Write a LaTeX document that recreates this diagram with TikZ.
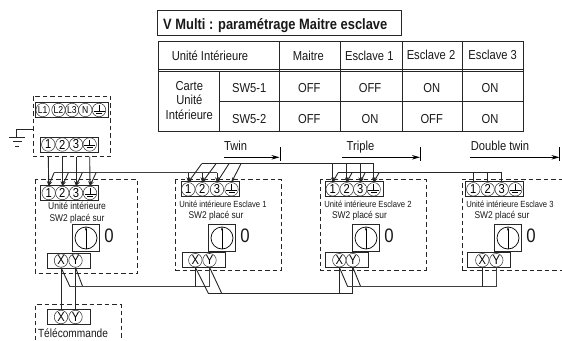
\documentclass[tikz,border=0pt]{standalone}
\usepackage{fontspec}
\setmainfont[FakeStretch=0.86]{Liberation Sans}
\usetikzlibrary{arrows.meta}
\newcommand{\fs}[1]{\fontsize{#1}{#1}\selectfont}
\tikzset{
  rule/.style={line width=0.9pt,black!85},
  wire/.style={line width=0.9pt,black!85},
  bus/.style={line width=1pt,black!75},
  feed/.style={wire,-{Stealth[length=5pt,width=3.5pt]}},
  span/.style={line width=0.9pt,-{Stealth[length=8pt,width=4.5pt]}},
  dash box/.style={line width=0.9pt,black!85,dash pattern=on 4.5pt off 3pt},
  stripbox/.style={draw,line width=1pt,black!85,minimum height=15pt,inner sep=0pt},
  term/.style={draw,circle,line width=0.5pt,black!80,minimum size=13.5pt,inner sep=0pt,text=black,font=\fs{13}},
  termsmall/.style={term,font=\fs{10}},
  earth/.style={term,path picture={
    \draw[line width=0.8pt,black] (path picture bounding box.center)++(0,5pt)--++(0,-6pt);
    \draw[line width=1pt,black] (path picture bounding box.center)++(-5.5pt,-1pt)--++(11pt,0);
    \draw[line width=1pt,black] (path picture bounding box.center)++(-3pt,-3pt)--++(6pt,0);}},
  switchbox/.style={draw,line width=1pt,black!85,minimum width=26.5pt,minimum height=26.5pt,inner sep=0pt},
  dial/.style={draw,circle,line width=0.7pt,minimum size=22pt,inner sep=0pt},
  lab/.style={anchor=base,inner sep=0pt,text=black!90},
  cell/.style={lab,font=\fs{13}},
  zero/.style={lab,font=\fs{19.5}},
}
% name, switch x, zero x, label x, sw2 x, label-y, sw2-y, label text, label size
\newcommand{\unitblock}[9]{%
  \node[switchbox] (#1sw) at (#2,238) {};
  \node[dial] (#1dial) at (#2,238) {};
  \draw[line width=0.4pt,-{Stealth[length=4pt,width=2pt]}] (#1dial.south) -- (#1dial.north);
  \node[zero] (#1zero) at (#3,242) {0};
  \node[lab,font=\fs{#9}] (#1lab) at (#4,#6) {#8};
  \node[lab,font=\fs{9.8}] (#1swlab) at (#5,#7) {SW2 placé sur};
}
% name, strip center x, y, c1,c2,c3,c4
\newcommand{\numstrip}[7]{%
  \node[stripbox,minimum width=58pt] (#1strip) at (#2,#3) {};
  \node[term] (#11) at (#4,#3) {1};
  \node[term] (#12) at (#5,#3) {2};
  \node[term] (#13) at (#6,#3) {3};
  \node[earth] (#14) at (#7,#3) {};
}
% name, center x, y, x1, x2
\newcommand{\xystrip}[5]{%
  \node[stripbox,minimum width=43.5pt] (#1xy) at (#2,#3) {};
  \node[term] (#1x) at (#4,#3) {X};
  \node[term] (#1y) at (#5,#3) {Y};
}
\begin{document}
\begin{tikzpicture}[x=1pt,y=-1pt]
\useasboundingbox (0,0) rectangle (562,340);
\fill[white] (0,0) rectangle (562,340);

% title
\node[draw,rule,minimum width=244pt,minimum height=25pt,inner sep=0pt] (titlebox) at (279.6,22.5) {};
\node[lab,anchor=base west,font=\fs{15}\bfseries] (title) at (163,29.3) {V Multi : paramétrage Maitre esclave};

% table
\draw[rule] (158,41) rectangle (523,131);
\draw[rule] (158,69.4) -- (523,69.4);
\draw[rule] (158,71.2) -- (523,71.2);
\draw[rule] (219,101.8) -- (523,101.8);
\draw[rule] (219,71) -- (219,131);
\foreach \cx in {279,340,402,462}{\draw[rule] (\cx,41) -- (\cx,131);}
\node[cell] (h0) at (210,60) {Unité Intérieure};
\node[cell] (h1) at (308.3,60) {Maitre};
\node[cell] (h2) at (369.3,60) {Esclave 1};
\node[cell] (h3) at (431,59) {Esclave 2};
\node[cell] (h4) at (492.7,59) {Esclave 3};
\node[cell] (cc1) at (189.3,90.7) {Carte};
\node[cell] (cc2) at (189.3,104) {Unité};
\node[cell] (cc3) at (189.3,119.3) {Intérieure};
\node[cell] (rr1) at (249.3,92.7) {SW5-1};
\node[cell] (rr2) at (249.3,123.3) {SW5-2};
\node[cell] (aa1) at (309.3,92.7) {OFF};
\node[cell] (aa2) at (370,92.7) {OFF};
\node[cell] (aa3) at (431.7,92.7) {ON};
\node[cell] (aa4) at (490,92.7) {ON};
\node[cell] (bb1) at (309.3,123.3) {OFF};
\node[cell] (bb2) at (370,123.3) {ON};
\node[cell] (bb3) at (431.7,123.3) {OFF};
\node[cell] (bb4) at (490,123.3) {ON};

% span arrows
\node[cell] (twin) at (235.7,150.5) {Twin};
\node[cell] (triple) at (360.5,150.5) {Triple};
\node[cell] (dtwin) at (500,150) {Double twin};
\coordinate (t1) at (224,157.3); \coordinate (t2) at (279.5,157.3);
\coordinate (u1) at (342,157.3); \coordinate (u2) at (420,157.3);
\coordinate (v1) at (469.7,157.3); \coordinate (v2) at (559.5,157.3);
\draw[span] (t1) -- (t2); \draw[line width=0.9pt] (280,147) -- (280,161);
\draw[span] (u1) -- (u2); \draw[line width=0.9pt] (420.7,147) -- (420.7,161);
\draw[span] (v1) -- (v2); \draw[line width=0.9pt] (559.7,147) -- (559.7,161);

% outlet box
\draw[dash box] (33,96) rectangle (110.7,156.7);
\node[stripbox,minimum width=73.5pt,minimum height=14.5pt] (linestrip) at (72,110) {};
\node[termsmall] (L1) at (42.7,110) {L1};
\node[termsmall] (L2) at (58.5,110) {L2};
\node[termsmall] (L3) at (72,110) {L3};
\node[termsmall] (LN) at (85.3,110) {N};
\node[earth] (LE) at (99,110) {};
\numstrip{o}{69.7}{144.5}{48.3}{62.3}{76}{89.7}

% ground
\coordinate (gtop) at (33,129);
\coordinate (gbend) at (16.7,129);
\coordinate (gbase) at (16.7,137);
\draw[wire] (gtop) -- (gbend) -- (gbase);
\draw[wire] (9.3,137) -- (25,137);
\draw[wire] (12.7,141.8) -- (21.7,141.8);
\draw[wire] (15.4,146) -- (19,146);

% unit dashed boxes
\draw[dash box] (35,179.3) rectangle (137.7,273.3);
\draw[dash box] (175.7,179.3) rectangle (281,270);
\draw[dash box] (320,179.3) rectangle (426,270);
\draw[dash box] (462,270) -- (462,179.3) -- (562,179.3);
\draw[dash box] (462,270) -- (562,270);
\draw[dash box] (35,340) -- (35,304.7) -- (121,304.7) -- (121,340);

% unit contents
\numstrip{m}{69.5}{193}{48.7}{62.3}{76}{90}
\numstrip{e}{210}{189.3}{188.3}{202.3}{217}{231.5}
\numstrip{f}{354.2}{189.3}{332.7}{346.7}{360.2}{373.7}
\numstrip{g}{494.7}{189.3}{473.3}{487.7}{501.7}{515.3}
\unitblock{m}{86}{109}{77}{77}{209}{221}{Unité intérieure}{9.9}
\unitblock{e}{222}{245}{223}{216}{207.3}{218.3}{Unité intérieure Esclave 1}{8.9}
\unitblock{f}{366}{389}{368}{359.5}{207.3}{218.3}{Unité intérieure Esclave 2}{8.9}
\unitblock{g}{508}{531}{510}{502}{207.3}{218.3}{Unité intérieure Esclave 3}{8.9}
\xystrip{m}{69}{260.5}{61}{75.5}
\xystrip{e}{204}{260.2}{195.3}{209.5}
\xystrip{f}{347}{260.2}{339.3}{352.8}
\xystrip{g}{488.8}{260.2}{482.3}{496.3}
\xystrip{t}{69}{317}{61}{75.5}
\node[lab,font=\fs{11.8}] (tlab) at (73,337.7) {Télécommande};

% power bus A
\coordinate (pa1) at (54,172.8);
\coordinate (pa2) at (68.3,172.8);
\coordinate (pa3) at (82.3,172.8);
\coordinate (pa4) at (96,172.8);
\coordinate (paend) at (217,172.8);
\coordinate (obase) at (0,156.7);
\draw[bus] (pa1) -- (paend);
\draw[feed] (o1.south |- obase) -- (m1.north);
\draw[feed] (o2.south |- obase) -- (m2.north);
\draw[feed] (o3.south |- obase) -- (m3.north);
\draw[feed] (o4.south |- obase) -- (m4.north);
\draw[feed] (pa1) -- (m1.north);
\draw[feed] (pa2) -- (m2.north);
\draw[feed] (pa3) -- (m3.north);
\draw[feed] (pa4) -- (m4.north);
\draw[feed] (e1.north |- paend) -- (e1.north);
\draw[feed] (e2.north |- paend) -- (e2.north);
\draw[feed] (e3.north |- paend) -- (e3.north);

% power bus B
\coordinate (pb1) at (201.7,163.7);
\coordinate (pb2) at (216,163.7);
\coordinate (pb3) at (229,163.7);
\coordinate (pb4) at (241,163.7);
\coordinate (pbend) at (373.7,163.7);
\draw[wire] (pb1) -- (pbend);
\draw[feed] (pb1) -- (e1.north);
\draw[feed] (pb2) -- (e2.north);
\draw[feed] (pb3) -- (e3.north);
\draw[feed] (pb4) -- (e4.north);
\draw[feed] (f1.north |- pbend) -- (f1.north);
\draw[feed] (f2.north |- pbend) -- (f2.north);
\draw[feed] (f3.north |- pbend) -- (f3.north);
\draw[feed] (f4.north |- pbend) -- (f4.north);

% power bus C
\coordinate (pc1) at (338,172.8);
\coordinate (pc2) at (352,172.8);
\coordinate (pc3) at (365,172.8);
\coordinate (pc4) at (379,172.8);
\coordinate (pcend) at (501.7,172.8);
\draw[wire] (pc1) -- (pcend);
\draw[feed] (pc1) -- (f1.north);
\draw[feed] (pc2) -- (f2.north);
\draw[feed] (pc3) -- (f3.north);
\draw[feed] (pc4) -- (f4.north);
\draw[wire] (g1.north |- pcend) -- (g1.north);
\draw[wire] (g2.north |- pcend) -- (g2.north);
\draw[wire] (g3.north |- pcend) -- (g3.north);

% control bus
\coordinate (p1) at (70,286.7);
\coordinate (p2) at (82.7,286.7);
\coordinate (q1) at (208.3,293.3);
\coordinate (q2) at (221.7,293.3);
\coordinate (s1) at (347.7,286.7);
\coordinate (s2) at (360.7,286.7);
\draw[wire] (mx.south) -- (tx.north);
\draw[wire] (my.south) -- (ty.north);
\draw[wire] (mx.south) -- (p1);
\draw[wire] (my.south) -- (p2);
\draw[bus] (p1) -- (ey.south |- p1) -- (ey.south);
\draw[wire] (ex.south) -- (ex.south |- p1);
\draw[wire] (ex.south) -- (q1);
\draw[wire] (ey.south) -- (q2);
\draw[wire] (q1) -- (fy.south |- q1) -- (fy.south);
\draw[wire] (fx.south) -- (fx.south |- q1);
\draw[wire] (fx.south) -- (s1);
\draw[wire] (fy.south) -- (s2);
\draw[bus] (s1) -- (gy.south |- s1) -- (gy.south);
\draw[wire] (gx.south) -- (gx.south |- s1);
\end{tikzpicture}
\end{document}
